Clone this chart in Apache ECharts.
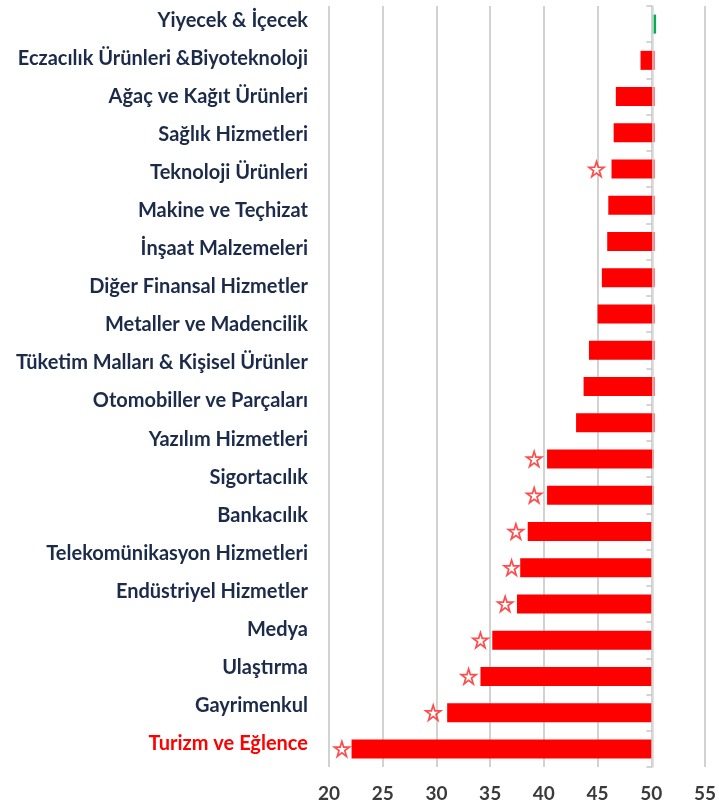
<!DOCTYPE html>
<html>
<head>
<meta charset="utf-8">
<script src="https://cdn.jsdelivr.net/npm/echarts@6/dist/echarts.min.js"></script>
<style>
	html, body { margin:0; padding:0; background:#fff; }
	#echarts { width:719px; height:805px; }
</style>
</head>
<body>
<div id="echarts"></div>
<script type="text/javascript">
	// sector names, top to bottom
	var sectors = ['Yiyecek & İçecek', 'Eczacılık Ürünleri &Biyoteknoloji', 'Ağaç ve Kağıt Ürünleri',
		'Sağlık Hizmetleri', 'Teknoloji Ürünleri', 'Makine ve Teçhizat', 'İnşaat Malzemeleri',
		'Diğer Finansal Hizmetler', 'Metaller ve Madencilik', 'Tüketim Malları & Kişisel Ürünler',
		'Otomobiller ve Parçaları', 'Yazılım Hizmetleri', 'Sigortacılık', 'Bankacılık',
		'Telekomünikasyon Hizmetleri', 'Endüstriyel Hizmetler', 'Medya', 'Ulaştırma',
		'Gayrimenkul', 'Turizm ve Eğlence'];
	// bar rows (21 in the picture), left and right ends of each bar
	var barRows = ['1','2','3','4','5','6','7','8','9','10','11','12','13','14','15','16','17','18','19','20','21'];
	var barLow = [50.1, 49.0, 46.7, 46.5, 46.3, 46.0, 45.9, 45.4, 45.0, 44.2, 43.7, 43.0,
		40.3, 40.3, 38.5, 37.8, 37.5, 35.2, 34.1, 31.0, 22.1];
	var barHigh = [50.45, 50.3, 50.3, 50.3, 50.3, 50.3, 50.3, 50.3, 50.3, 50.3, 50.3, 50.3,
		50.25, 50.25, 50.0, 50.0, 50.0, 50.0, 50.0, 50.0, 50.0];
	// star markers (null = none)
	var stars = [null, null, null, null, 44.9, null, null, null, null, null, null, null,
		39.1, 39.1, 37.4, 37.0, 36.4, 34.1, 33.0, 29.7, 21.2];
	var xTicks = [20, 25, 30, 35, 40, 45, 50, 55];

	var starPath = 'path://M50,2 L61,36 L97,36 L68,57 L79,92 L50,71 L21,92 L32,57 L3,36 L39,36 Z';

	var thechart = echarts.init(document.getElementById('echarts'));

	var labelData = [];
	for (var i = 0; i < sectors.length; i++) {
		if (sectors[i] == 'Turizm ve Eğlence') {
			labelData.push({value: sectors[i], textStyle: {color: '#ff0000'}});
		} else {
			labelData.push(sectors[i]);
		}
	}
	var baseData = [], lenData = [], starData = [];
	for (var j = 0; j < barRows.length; j++) {
		baseData.push(barLow[j]);
		lenData.push({
			value: +(barHigh[j] - barLow[j]).toFixed(2),
			itemStyle: {color: j == 0 ? '#00b050' : '#ff0000'}
		});
		if (stars[j] != null) starData.push([stars[j], j]);
	}

	var theoption = {
		animation: false,
		textStyle: {fontFamily: 'Lato'},
		grid: [
			{left: 329, right: 12.3, top: 6, height: 761},
			{left: 308, width: 5, top: 1.3, height: 761.4},
			{left: 652.3, width: 10, top: 6, height: 761}
		],
		xAxis: [
			{
				gridIndex: 0, type: 'value', min: xTicks[0], max: xTicks[xTicks.length - 1], interval: 5,
				axisLine: {show: false}, axisTick: {show: false},
				axisLabel: {color: '#3a3a3a', fontSize: 19, fontWeight: 'bold', margin: 17},
				splitLine: {show: true, lineStyle: {color: '#d2d2d2', width: 2}}
			},
			{gridIndex: 1, type: 'value', show: false},
			{gridIndex: 2, type: 'value', show: false}
		],
		yAxis: [
			{
				gridIndex: 0, type: 'category', data: barRows, inverse: true,
				axisLine: {show: false}, axisTick: {show: false}, axisLabel: {show: false}
			},
			{
				gridIndex: 1, type: 'category', data: labelData, inverse: true,
				axisLine: {show: false}, axisTick: {show: false},
				axisLabel: {color: '#1c2b4a', fontSize: 20, fontWeight: 'bold', margin: 0}
			},
			{
				gridIndex: 2, type: 'category', data: barRows, inverse: true, z: 10,
				axisLine: {show: true, lineStyle: {color: '#d9d9d9', width: 1.5}},
				axisTick: {show: true, length: 6, lineStyle: {color: '#c8c8c8', width: 1.5}},
				axisLabel: {show: false}
			}
		],
		series: [
			{
				type: 'bar', stack: 'total', data: baseData, barWidth: 19,
				itemStyle: {color: 'transparent'}, silent: true
			},
			{
				type: 'bar', stack: 'total', data: lenData, barWidth: 19
			},
			{
				type: 'scatter', data: starData, symbol: starPath, symbolSize: 15,
				itemStyle: {color: '#ffffff', borderColor: '#ff2020', borderWidth: 1.7}
			}
		]
	};
	thechart.setOption(theoption, true);
</script>
</body>
</html>
